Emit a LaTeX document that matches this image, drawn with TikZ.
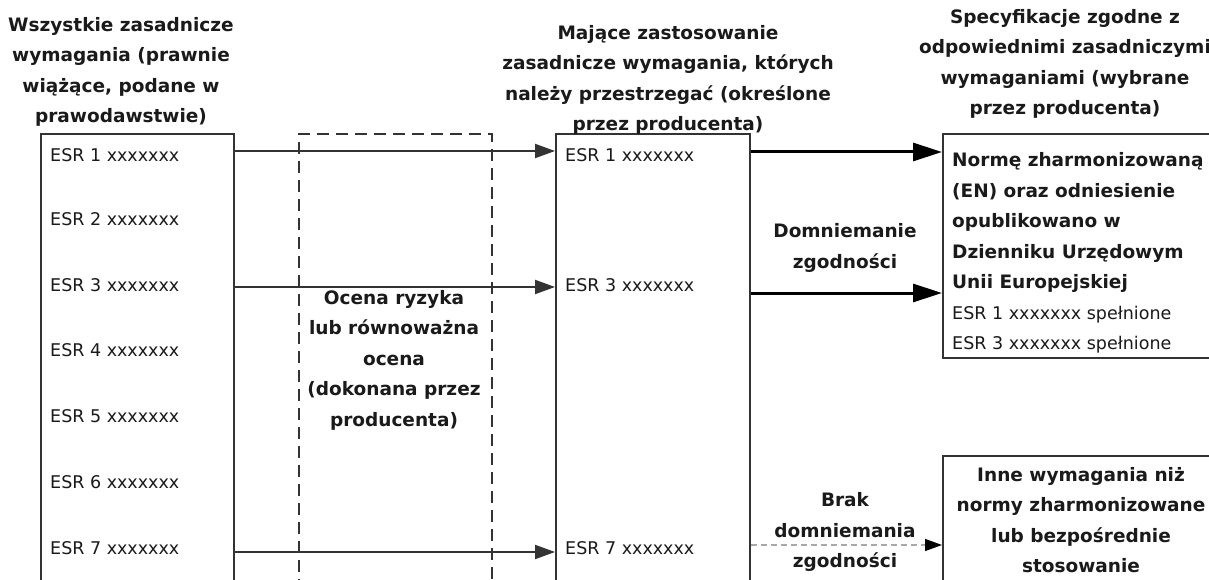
\documentclass[tikz,border=0pt]{standalone}
\usepackage{fontspec}
\setmainfont{DejaVu Sans}
\usetikzlibrary{arrows.meta}
\definecolor{ln}{HTML}{333333}
\definecolor{tx}{HTML}{1A1A1A}
\definecolor{gl}{HTML}{A8A8A8}
\begin{document}
\begin{tikzpicture}[x=1pt,y=-1pt,
  box/.style={draw=ln, line width=2.2pt, inner sep=0pt, anchor=north west},
  dbox/.style={draw=ln, line width=1.8pt, dash pattern=on 12pt off 7pt, inner sep=0pt, anchor=north west},
  hd/.style={font=\fontsize{18.5}{30.5}\selectfont\bfseries, align=center, text=tx, inner sep=0pt},
  esr/.style={font=\fontsize{17.5}{30.5}\selectfont, anchor=west, text=tx, inner sep=0pt},
  thinarrow/.style={draw=ln, line width=2pt, -{Triangle[length=20pt,width=14pt]}},
  thickarrow/.style={draw=black, line width=3pt, -{Triangle[length=29pt,width=18pt]}},
  greyarrow/.style={draw=gl, line width=1.4pt, dash pattern=on 6pt off 4pt, -{Triangle[length=17pt,width=12pt,color=black]}}
]
\useasboundingbox (0,0) rectangle (1209,580);
\clip (0,0) rectangle (1209,580);
\fill[white] (0,0) rectangle (1209,580);

% boxes
\node[box, minimum width=193pt, minimum height=480pt] (leftbox) at (40,133) {};
\node[dbox, minimum width=193pt, minimum height=480pt] (dashbox) at (298,133) {};
\node[box, line width=1.8pt, minimum width=194pt, minimum height=480pt] (midbox) at (555,133) {};
\node[box, minimum width=300pt, minimum height=224pt] (rtbox) at (942,133) {};
\node[box, minimum width=300pt, minimum height=200pt] (rbbox) at (942,455) {};

% headings
\node[hd] (h1) at (121,72) {Wszystkie zasadnicze\\wymagania (prawnie\\wiążące, podane w\\prawodawstwie)};
\node[hd] (h2) at (668,80) {Mające zastosowanie\\zasadnicze wymagania, których\\należy przestrzegać (określone\\przez producenta)};
\node[hd] (h3) at (1065,64) {Specyfikacje zgodne z\\odpowiednimi zasadniczymi\\wymaganiami (wybrane\\przez producenta)};

% left ESR list
\node[esr] (l1) at (50,155) {ESR 1 xxxxxxx};
\node[esr] (l2) at (50,219) {ESR 2 xxxxxxx};
\node[esr] (l3) at (50,285) {ESR 3 xxxxxxx};
\node[esr] (l4) at (50,350) {ESR 4 xxxxxxx};
\node[esr] (l5) at (50,416) {ESR 5 xxxxxxx};
\node[esr] (l6) at (50,482) {ESR 6 xxxxxxx};
\node[esr] (l7) at (50,548) {ESR 7 xxxxxxx};

% middle ESR list
\node[esr] (m1) at (565,155) {ESR 1 xxxxxxx};
\node[esr] (m3) at (565,285) {ESR 3 xxxxxxx};
\node[esr] (m7) at (565,548) {ESR 7 xxxxxxx};

% risk assessment
\node[hd] (risk) at (394,360) {Ocena ryzyka\\lub równoważna\\ocena\\(dokonana przez\\producenta)};

% labels
\node[hd] (dom) at (845,248) {Domniemanie\\zgodności};
\node[hd] (brak) at (845,532) {Brak\\domniemania\\zgodności};

% right top box text
\node[anchor=west, align=left, inner sep=0pt, text=tx, font=\fontsize{17.5}{30.5}\selectfont] (spec) at (952,253)
 {{\bfseries\fontsize{18.5}{30.5}\selectfont Normę zharmonizowaną}\\
  {\bfseries\fontsize{18.5}{30.5}\selectfont (EN) oraz odniesienie}\\
  {\bfseries\fontsize{18.5}{30.5}\selectfont opublikowano w}\\
  {\bfseries\fontsize{18.5}{30.5}\selectfont Dzienniku Urzędowym}\\
  {\bfseries\fontsize{18.5}{30.5}\selectfont Unii Europejskiej}\\
  ESR 1 xxxxxxx spełnione\\
  ESR 3 xxxxxxx spełnione};

% right bottom box text
\node[hd] (other) at (1081,520) {Inne wymagania niż\\normy zharmonizowane\\lub bezpośrednie\\stosowanie};

% arrows left -> middle
\draw[thinarrow] ([yshift=4pt]l1.west -| leftbox.east) -- ([yshift=4pt]l1.west -| midbox.west);
\draw[thinarrow] ([yshift=-2pt]l3.west -| leftbox.east) -- ([yshift=-2pt]l3.west -| midbox.west);
\draw[thinarrow] ([yshift=-4pt]l7.west -| leftbox.east) -- ([yshift=-4pt]l7.west -| midbox.west);

% arrows middle -> right
\draw[thickarrow] ([yshift=3pt]m1.west -| midbox.east) -- ([yshift=3pt]m1.west -| rtbox.west);
\draw[thickarrow] ([yshift=-8pt]m3.west -| midbox.east) -- ([yshift=-8pt]m3.west -| rtbox.west);
\draw[greyarrow] ([yshift=3pt]m7.west -| midbox.east) -- ([yshift=3pt]m7.west -| rbbox.west);
\end{tikzpicture}
\end{document}
